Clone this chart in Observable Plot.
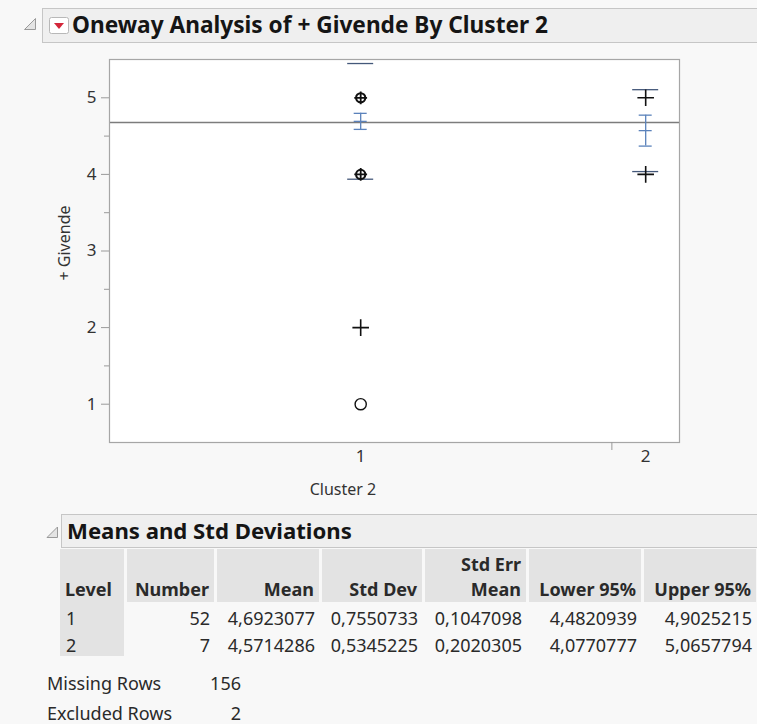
<!DOCTYPE html>
<html><head><meta charset="utf-8">
<script src="https://cdn.jsdelivr.net/npm/d3@7"></script>
<script src="https://cdn.jsdelivr.net/npm/@observablehq/plot@0.6"></script>
<style>
body{margin:0;background:#f8f8f8;width:757px;height:724px;overflow:hidden;position:relative;font-family:"Noto Sans",sans-serif;color:#222}
.abs{position:absolute;white-space:nowrap}
.bar{position:absolute;background:#efefef;border:1px solid #c6c6c6;border-right:none;box-sizing:border-box}
.bold{font-weight:700;color:#151515}
.cell{position:absolute;font-size:18px;line-height:20px;color:#2a2a2a;white-space:nowrap}
</style></head><body>
<div id="root"></div>
<script>
// ---- data ----
const levels = ["1", "2"];
const counts = [52, 7];
const means = [4.6923077, 4.5714286];
const stdDevs = [0.7550733, 0.5345225];
const stdErrs = [0.1047098, 0.2020305];
const lower95 = [4.4820939, 4.0770777];
const upper95 = [4.9025215, 5.0657794];
const plusLevels = ["1", "1", "1", "2", "2"];
const plusValues = [5, 4, 2, 5, 4];
const circleLevels = ["1", "1", "1"];
const circleValues = [5, 4, 1];
const yTicks = [1, 2, 3, 4, 5];
const yMinorTicks = [1.5, 2.5, 3.5, 4.5];
const missingRows = 156;
const excludedRows = 2;
const titleText = "Oneway Analysis of + Givende By Cluster 2";
const yLabel = "+ Givende";
const xLabel = "Cluster 2";
const tableTitle = "Means and Std Deviations";

// ---- derived ----
const total = d3.sum(counts);
let acc = 0;
const levelData = levels.map((lv, i) => {
  const start = acc; acc += counts[i];
  return {level: lv, center: start + counts[i] / 2, end: acc, mean: means[i], sd: stdDevs[i], se: stdErrs[i]};
});
const centerOf = new Map(levelData.map(d => [d.level, d.center]));
const labelOf = new Map(levelData.map(d => [d.center, d.level]));
const grandMean = d3.sum(levelData, (d, i) => d.mean * counts[i]) / total;
const boundaries = levelData.slice(0, -1).map(d => d.end);
const circles = circleLevels.map((l, i) => ({x: centerOf.get(l), y: circleValues[i]}));
const pluses = plusLevels.map((l, i) => ({x: centerOf.get(l), y: plusValues[i]}));
const same = (a, b) => a.x === b.x && a.y === b.y;
const plusSolo = pluses.filter(p => !circles.some(c => same(c, p)));
const plusBoth = pluses.filter(p => circles.some(c => same(c, p)));
const circleSolo = circles.filter(c => !pluses.some(p => same(c, p)));
const circleBoth = circles.filter(c => pluses.some(p => same(c, p)));
const blue = "#5b82bb";
const sdColor = "#44587a";

const root = document.getElementById("root");
function el(html) { const t = document.createElement("div"); t.innerHTML = html; const n = t.firstElementChild; root.appendChild(n); return n; }

// title bar
el(`<svg class="abs" style="left:24px;top:17px" width="13" height="14"><polygon points="11.5,1.5 11.5,12.5 0.5,12.5" fill="#e4e4e4" stroke="#9a9a9a"/></svg>`);
el(`<div class="bar" style="left:42px;top:8px;width:715px;height:35px"></div>`);
el(`<svg class="abs" style="left:49px;top:17px" width="20" height="17"><rect x="0.5" y="0.5" width="19" height="16" rx="2" fill="#fff" stroke="#b8b8b8"/><polygon points="5,6 15,6 10,12" fill="#d3263a"/></svg>`);
const tEl = el(`<div class="abs bold" style="left:72px;top:11px;font-size:20px;line-height:28px">${titleText}</div>`);

// chart
const chart = Plot.plot({
  width: 700, height: 450,
  marginLeft: 109, marginRight: 21, marginTop: 9, marginBottom: 58,
  style: {background: "transparent", fontFamily: "Noto Sans", fontSize: "17px", color: "#333"},
  x: {domain: [0, total]},
  y: {domain: [0.5, 5.5]},
  marks: [
    Plot.frame({fill: "white", stroke: "none"}),
    Plot.ruleY([grandMean], {stroke: "#7c7c7c", strokeWidth: 1.4}),
    // std dev lines
    Plot.ruleY(levelData, {y: d => d.mean + d.sd, x1: "center", x2: "center", insetLeft: -13, insetRight: -13, stroke: sdColor, strokeWidth: 1.3}),
    Plot.ruleY(levelData, {y: d => d.mean - d.sd, x1: "center", x2: "center", insetLeft: -13, insetRight: -13, stroke: sdColor, strokeWidth: 1.3}),
    // std error bars
    Plot.ruleX(levelData, {x: "center", y1: d => d.mean - d.se, y2: d => d.mean + d.se, stroke: blue, strokeWidth: 1.3}),
    Plot.ruleY(levelData, {y: d => d.mean + d.se, x1: "center", x2: "center", insetLeft: -6.5, insetRight: -6.5, stroke: blue, strokeWidth: 1.3}),
    Plot.ruleY(levelData, {y: d => d.mean - d.se, x1: "center", x2: "center", insetLeft: -6.5, insetRight: -6.5, stroke: blue, strokeWidth: 1.3}),
    Plot.ruleY(levelData, {y: "mean", x1: "center", x2: "center", insetLeft: -6.5, insetRight: -6.5, stroke: blue, strokeWidth: 1.3}),
    // points
    Plot.dot(circleBoth, {x: "x", y: "y", symbol: "circle", r: 4.6, stroke: "#111", strokeWidth: 2.1, fill: "none"}),
    Plot.dot(circleSolo, {x: "x", y: "y", symbol: "circle", r: 5.6, stroke: "#111", strokeWidth: 1.4, fill: "none"}),
    Plot.dot(plusSolo, {x: "x", y: "y", symbol: "plus", r: 5.4, stroke: "#111", strokeWidth: 1.6}),
    Plot.dot(plusBoth, {x: "x", y: "y", symbol: "plus", r: 4.2, stroke: "#111", strokeWidth: 1.8}),
    Plot.frame({stroke: "#a6a6a6", strokeWidth: 1.2}),
    Plot.axisY(yTicks, {tickSize: 8, tickPadding: 5, tickFormat: d3.format("d"), label: null, stroke: "#9a9a9a", fill: "#333"}),
    Plot.axisY(yMinorTicks, {tickSize: 5, tickFormat: () => "", label: null, stroke: "#9a9a9a"}),
    Plot.axisX(levelData.map(d => d.center), {tickSize: 0, tickPadding: 7, tickFormat: d => labelOf.get(d), label: null, fill: "#333"}),
    Plot.axisX(boundaries, {tickSize: 8, tickFormat: () => "", label: null, stroke: "#9a9a9a"})
  ]
});
chart.style.position = "absolute";
chart.style.left = "0px";
chart.style.top = "50px";
root.appendChild(chart);

el(`<div class="abs" style="left:64px;top:243px;font-size:16px;color:#333;transform:translate(-50%,-50%) rotate(-90deg)">${yLabel}</div>`);
el(`<div class="abs" style="left:343px;top:489px;font-size:16px;color:#333;transform:translate(-50%,-50%)">${xLabel}</div>`);

// table title
el(`<svg class="abs" style="left:46px;top:526px" width="13" height="13"><polygon points="11.5,1 11.5,11.5 1,11.5" fill="#e4e4e4" stroke="#9a9a9a"/></svg>`);
el(`<div class="bar" style="left:61px;top:514px;width:696px;height:34px"></div>`);
const mEl = el(`<div class="abs bold" style="left:67px;top:516px;font-size:20px;line-height:28px">${tableTitle}</div>`);

// table
const colL = [60, 125, 215, 320, 423, 527, 642];
const colR = [125, 215, 320, 423, 527, 642, 757];
const headers = [["", "Level"], ["", "Number"], ["", "Mean"], ["", "Std Dev"], ["Std Err", "Mean"], ["", "Lower 95%"], ["", "Upper 95%"]];
const fmt = v => v.toFixed(7).replace(".", ",");
const rows = levels.map((lv, i) => [lv, String(counts[i]), fmt(means[i]), fmt(stdDevs[i]), fmt(stdErrs[i]), fmt(lower95[i]), fmt(upper95[i])]);
const hTop = 549, hBot = 602, rowH = 27;
colL.forEach((l, c) => {
  el(`<div class="abs" style="left:${l + (c ? 1.5 : 0)}px;top:${hTop}px;width:${colR[c] - l - (c ? 1.5 : 0) - 1.5}px;height:${hBot - hTop}px;background:#e3e3e3"></div>`);
});
el(`<div class="abs" style="left:${colL[0]}px;top:${hBot}px;width:${colR[0] - colL[0] - 1.5}px;height:${rowH * 2}px;background:#e3e3e3"></div>`);
headers.forEach((h, c) => {
  const align = c === 0 ? `left:${colL[c] + 5}px` : `right:${757 - colR[c] + 6}px`;
  h.forEach((t, k) => {
    if (!t) return;
    el(`<div class="cell bold" style="${align};top:${hTop + 5 + k * 25}px;text-align:${c === 0 ? "left" : "right"}">${t}</div>`);
  });
});
rows.forEach((r, ri) => {
  r.forEach((t, c) => {
    const align = c === 0 ? `left:${colL[c] + 6}px` : `right:${757 - colR[c] + 5}px`;
    el(`<div class="cell" style="${align};top:${hBot + 6 + ri * rowH}px">${t}</div>`);
  });
});
el(`<div class="cell" style="left:47px;top:673px">Missing Rows</div>`);
el(`<div class="cell" style="right:${757 - 241}px;top:673px">${missingRows}</div>`);
el(`<div class="cell" style="left:47px;top:703px">Excluded Rows</div>`);
el(`<div class="cell" style="right:${757 - 241}px;top:703px">${excludedRows}</div>`);

// fit heading widths to reference
function fit(node, w) { const cw = node.getBoundingClientRect().width; const fs = parseFloat(node.style.fontSize); node.style.fontSize = (fs * w / cw).toFixed(2) + "px"; }
fit(tEl, 476);
fit(mEl, 285);
</script>
</body></html>
